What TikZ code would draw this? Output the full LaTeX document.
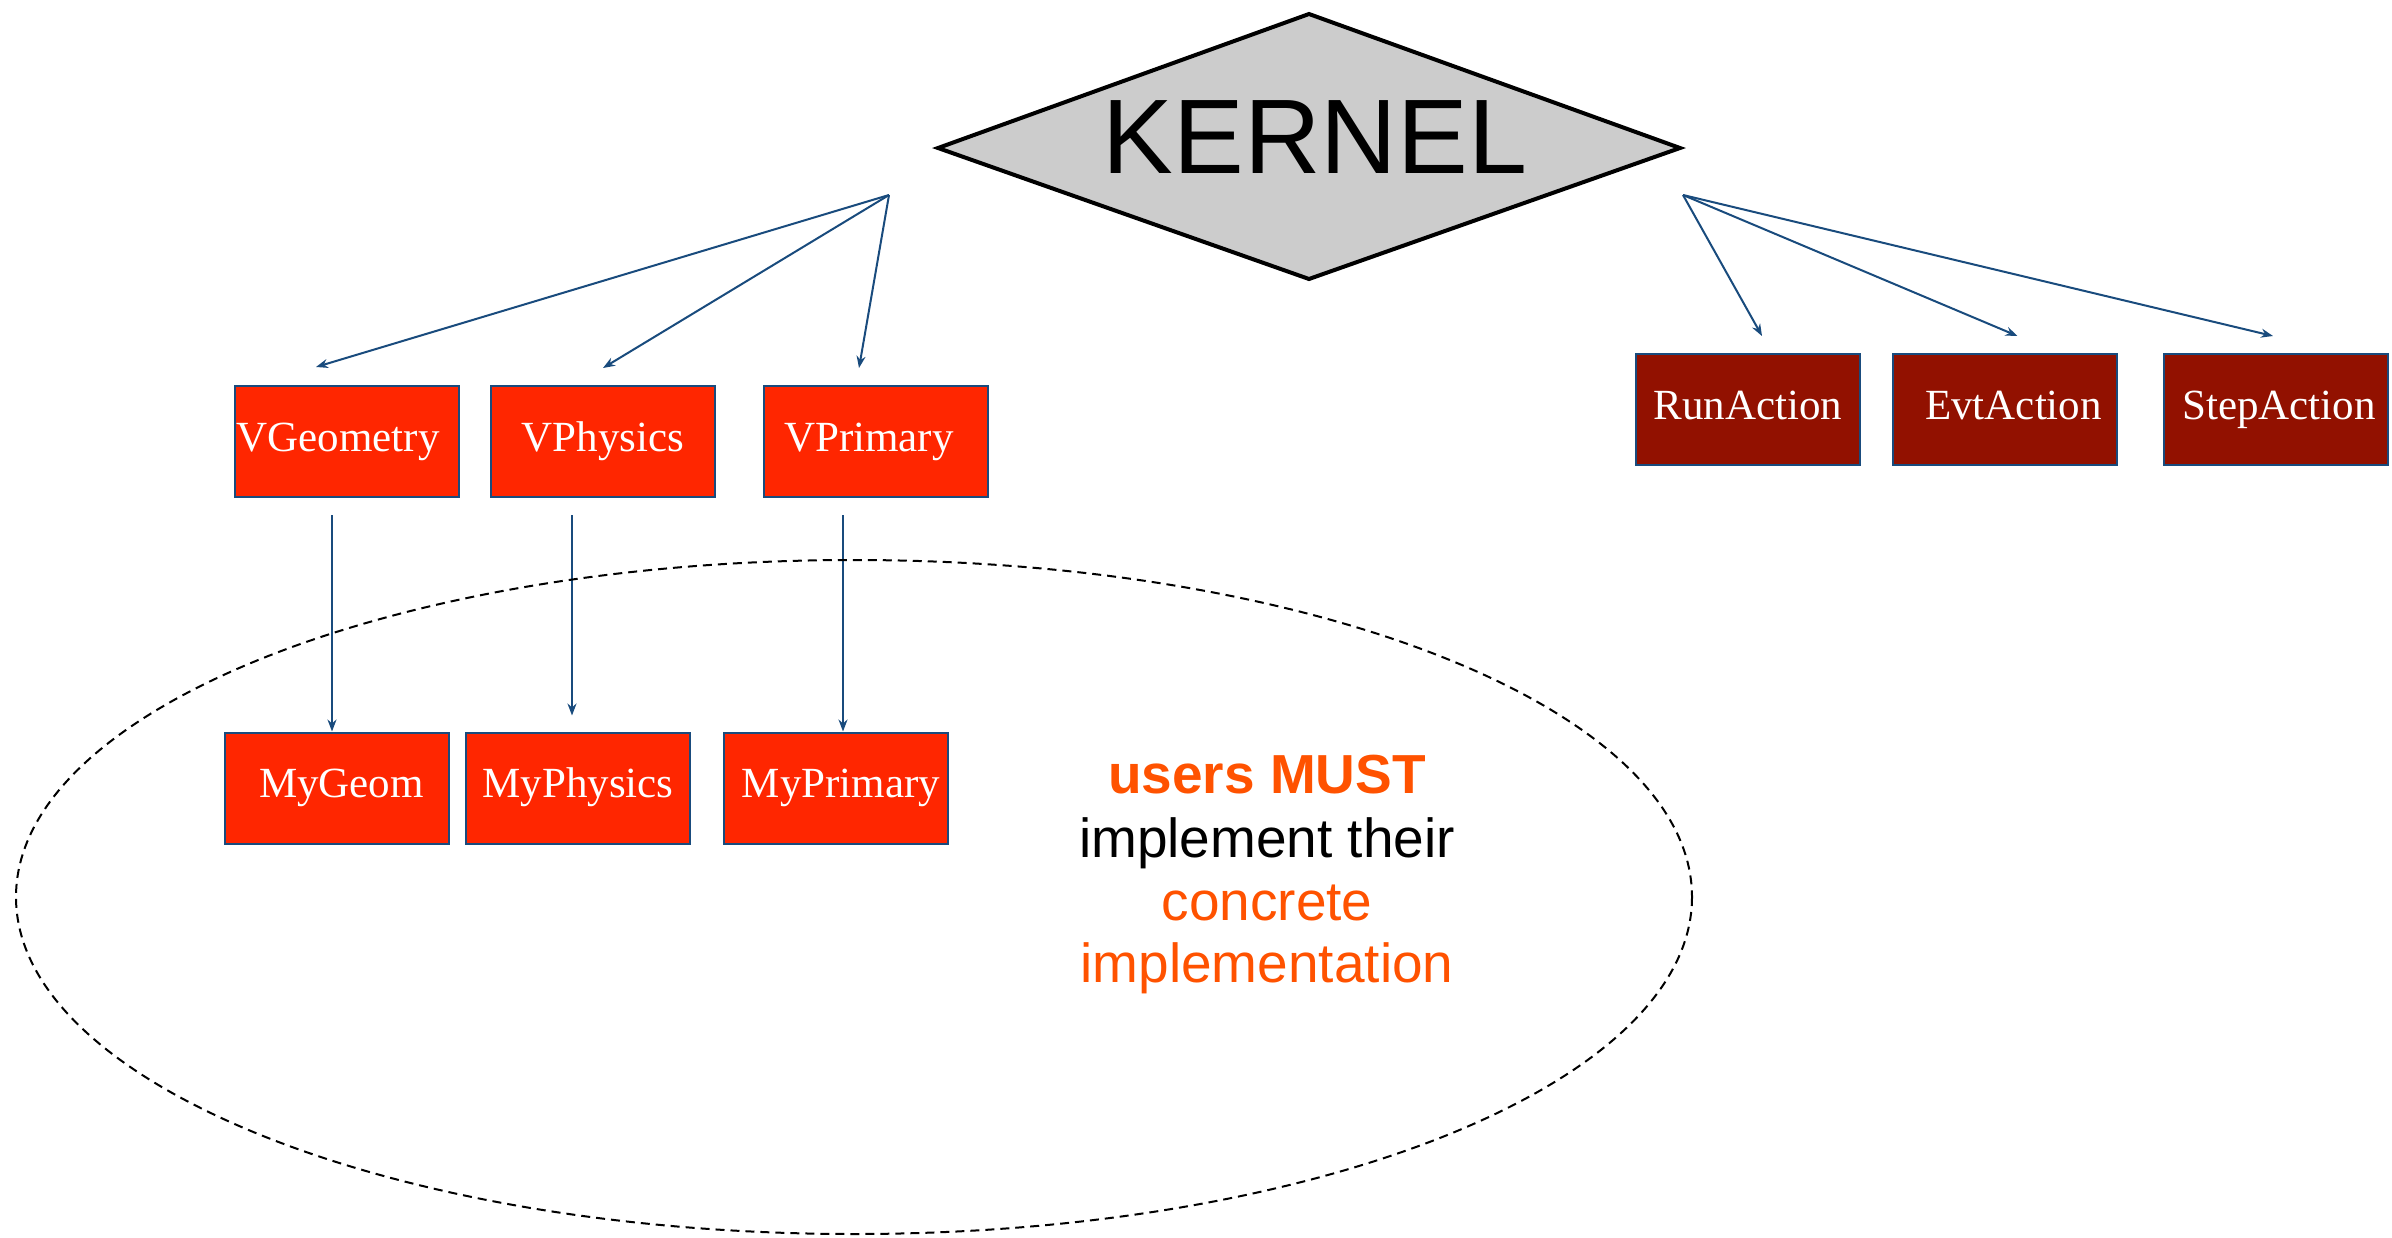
\documentclass[tikz,border=0pt]{standalone}
\usepackage{fontspec}
\setmainfont{Liberation Serif}
\newfontfamily\sansf{Liberation Sans}
\usetikzlibrary{arrows.meta,calc}
\definecolor{boxred}{RGB}{255,38,0}
\definecolor{darkred}{RGB}{146,17,0}
\definecolor{edgeblue}{RGB}{25,75,125}
\definecolor{txtorange}{RGB}{255,82,0}
\definecolor{kgray}{RGB}{204,204,204}
\newcommand\shtext[2]{\makebox[0pt]{\hspace*{#1}#2\hspace*{-#1}}}
\begin{document}
\begin{tikzpicture}[x=0.5pt,y=-0.5pt,
  cls/.style={draw=edgeblue,line width=1pt,fill=boxred,text=white,minimum width=112pt,minimum height=55.5pt,inner sep=0pt,text height=14.5pt,text depth=4.7pt,font=\fontsize{21.5}{24}\selectfont},
  act/.style={cls,fill=darkred},
  arr/.style={draw=edgeblue,line width=1pt,-{Stealth[length=6pt,width=4.5pt]}},
  note/.style={anchor=base,inner sep=0pt,font=\sansf\fontsize{27.5}{31.5}\selectfont},
]
\useasboundingbox (0,0) rectangle (2392,1237);

% kernel diamond
\draw[line width=2pt,fill=kgray] (938,148) -- (1309,14) -- (1680,148) -- (1309,279) -- cycle;
\node[inner sep=0pt,font=\sansf\fontsize{53}{60}\selectfont] (kernel) at (1315,137) {KERNEL};

% boxes
\node[cls] (vgeo) at (347,441.5) {\shtext{-4.5pt}{VGeometry}};
\node[cls] (vphy) at (603,441.5) {VPhysics};
\node[cls] (vpri) at (876,441.5) {\shtext{-3.5pt}{VPrimary}};
\node[act] (run) at (1748,409.5) {RunAction};
\node[act] (evt) at (2004.5,409.5) {\shtext{4.5pt}{EvtAction}};
\node[act] (stp) at (2276,409.5) {\shtext{1.5pt}{StepAction}};
\node[cls] (mgeo) at (336.5,788) {\shtext{2.5pt}{MyGeom}};
\node[cls] (mphy) at (578,788) {MyPhysics};
\node[cls] (mpri) at (836,788) {\shtext{2.5pt}{MyPrimary}};

% arrows from kernel
\coordinate (kl) at (889,195);
\coordinate (kr) at (1683,195);
\draw[arr] (kl) -- ($(vgeo.north)+(-31,-18)$);
\draw[arr] (kl) -- ($(vphy.north)+(0,-17)$);
\draw[arr] (kl) -- ($(vpri.north)+(-17,-17)$);
\draw[arr] (kr) -- ($(run.north)+(14,-17)$);
\draw[arr] (kr) -- ($(evt.north)+(13,-17)$);
\draw[arr] (kr) -- ($(stp.north)+(-3,-17)$);

% vertical arrows
\coordinate (sg) at (332,515);
\coordinate (sp) at (572,515);
\coordinate (sr) at (843,515);
\draw[arr] (sg) -- (sg |- mgeo.north);
\draw[arr,shorten >=8pt] (sp) -- (sp |- mphy.north);
\draw[arr] (sr) -- (sr |- mpri.north);

% dashed ellipse
\draw[line width=1pt,dash pattern=on 4.5pt off 3pt] (854,897) ellipse [x radius=838, y radius=337];

% note text
\node[note,text=txtorange] (n1) at (1267,793) {\bfseries users MUST};
\node[note,text=black] (n2) at (1267,857) {implement their};
\node[note,text=txtorange] (n3) at (1267,920) {concrete};
\node[note,text=txtorange] (n4) at (1267,982) {implementation};
\end{tikzpicture}
\end{document}
